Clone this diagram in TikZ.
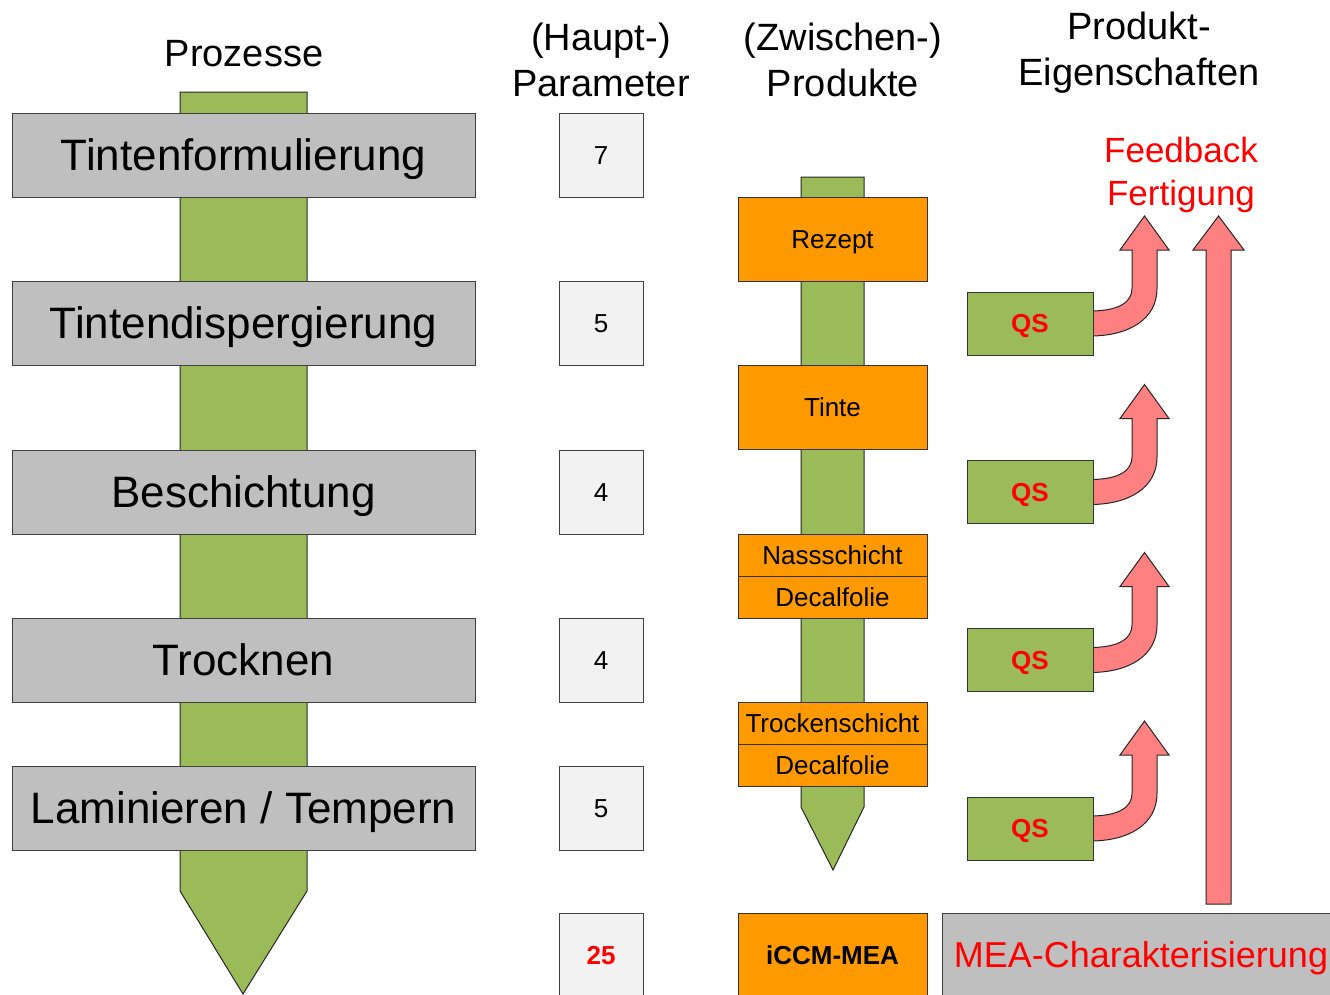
\documentclass[tikz,border=0pt]{standalone}
\usepackage{fontspec}
\setmainfont{Liberation Sans}
\begin{document}
\begin{tikzpicture}[x=1pt,y=-1pt,
  every node/.style={inner sep=0pt,outer sep=0pt},
  fz/.style={font=\fontsize{#1}{#1}\selectfont},
  big/.style={font=\fontsize{44}{44}\selectfont,text height=39.8pt,text depth=9.3pt},
  small/.style={font=\fontsize{26}{26}\selectfont,text height=23.5pt,text depth=5.5pt},
  smallbold/.style={font=\fontsize{26}{26}\selectfont\bfseries,text height=23.5pt,text depth=5.5pt},
  proc/.style={draw=black!75,fill=procgray,line width=1pt,minimum width=463pt,minimum height=84pt,big},
  param/.style={draw=black!75,fill=paramgray,line width=1pt,minimum width=84pt,minimum height=84pt,small},
  prod/.style={draw=black!80,fill=prodorange,line width=1pt,minimum width=189pt,minimum height=#1,small},
  qsbox/.style={draw=black!80,fill=greenarrow,line width=1pt,minimum width=126pt,minimum height=63pt,smallbold,text=red},
  hdr/.style={fz=38,anchor=base},
  greenshape/.style={draw=black!85,fill=greenarrow,line width=1pt},
  redshape/.style={draw=black!85,fill=redarrow,line width=1pt,line join=miter},
]
\definecolor{procgray}{HTML}{BFBFBF}
\definecolor{paramgray}{HTML}{F2F2F2}
\definecolor{prodorange}{HTML}{FF9900}
\definecolor{greenarrow}{HTML}{9BBB59}
\definecolor{redarrow}{HTML}{FF8080}
\useasboundingbox (0,0) rectangle (1330,994);
% headers
\node[hdr] (hproc) at (244,66) {Prozesse};
\node[hdr] (hpar1) at (601,50) {(Haupt-)};
\node[hdr] (hpar2) at (601,96) {Parameter};
\node[hdr] (hprd1) at (843,50) {(Zwischen-)};
\node[hdr] (hprd2) at (843,96) {Produkte};
\node[hdr] (heig1) at (1139,39) {Produkt-};
\node[hdr] (heig2) at (1139,85) {Eigenschaften};
\node[hdr,fz=35,text=red] (fb1) at (1181,162) {Feedback};
\node[hdr,fz=35,text=red] (fb2) at (1181,205) {Fertigung};
% big green arrow
\draw[greenshape] (180,92) -- (307,92) -- (307,891) -- (243,994) -- (180,891) -- cycle;
% process boxes
\node[proc] (p1) at (243.5,155) {Tintenformulierung};
\node[proc] (p2) at (243.5,323) {Tintendispergierung};
\node[proc] (p3) at (243.5,492) {Beschichtung};
\node[proc] (p4) at (243.5,660) {Trocknen};
\node[proc] (p5) at (243.5,808) {Laminieren / Tempern};
% parameter boxes
\node[param] (n1) at (601,155) {7};
\node[param] (n2) at (601,323) {5};
\node[param] (n3) at (601,492) {4};
\node[param] (n4) at (601,660) {4};
\node[param] (n5) at (601,808) {5};
\node[param,minimum height=100pt,anchor=north] (n6) at (601,913) {};
\node[smallbold,text=red] (n6t) at (601,955) {25};
% middle green arrow
\draw[greenshape] (801,177) -- (864,177) -- (864,807) -- (833,870) -- (801,807) -- cycle;
% product boxes
\node[prod=84pt] (r1) at (832.5,239) {Rezept};
\node[prod=84pt] (r2) at (832.5,407) {Tinte};
\node[prod=42pt] (r3) at (832.5,555) {Nassschicht};
\node[prod=42pt] (r4) at (832.5,597) {Decalfolie};
\node[prod=42pt] (r5) at (832.5,723) {Trockenschicht};
\node[prod=42pt] (r6) at (832.5,765) {Decalfolie};
\node[prod=100pt,anchor=north] (r7) at (832.5,913) {};
\node[smallbold] (r7t) at (832.5,955) {iCCM-MEA};
% MEA box
\node[draw=black!75,fill=procgray,line width=1pt,minimum width=400pt,minimum height=100pt,anchor=north west] (mea) at (942,913) {};
\node[font=\fontsize{36}{36}\selectfont,text height=32.6pt,text depth=7.6pt,text=red] (meat) at (1141,955) {MEA-Charakterisierung};
% big red arrow
\draw[redshape] (1206,904) -- (1206,250) -- (1193,250) -- (1218.5,216) -- (1244,250) -- (1231,250) -- (1231,904) -- cycle;
% curved red arrows and QS boxes
\foreach \c [count=\i] in {323.5,492,660,828.5}{
  \draw[redshape] (1090,\c+12.5) .. controls (1130,\c+12.5) and (1157,\c-5) .. (1157,\c-35)
     -- (1157,\c-73.5) -- (1169,\c-73.5) -- (1144.5,\c-107.5) -- (1120,\c-73.5) -- (1132,\c-73.5)
     -- (1132,\c-35) .. controls (1132,\c-22) and (1120,\c-12.5) .. (1090,\c-12.5) -- cycle;
  \node[qsbox] (q\i) at (1030,\c) {QS};
}
\end{tikzpicture}
\end{document}
